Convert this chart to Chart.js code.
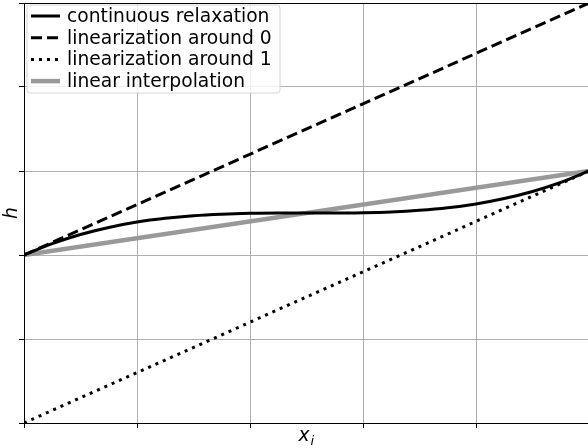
<!DOCTYPE html>
<html>
<head>
<meta charset="utf-8">
<script src="https://cdn.jsdelivr.net/npm/chart.js@4"></script>
<style>
  html, body { margin: 0; padding: 0; background: #fff; overflow: hidden; }
  #wrap { width: 588px; height: 448px; overflow: hidden; }
</style>
</head>
<body>
<div id="wrap"><canvas id="chart" width="592" height="448"></canvas></div>
<script>
// ── Données ──────────────────────────────────────────────────────────────
const xs = [0, 0.05, 0.1, 0.15, 0.2, 0.25, 0.3, 0.35, 0.4, 0.45, 0.5,
            0.55, 0.6, 0.65, 0.7, 0.75, 0.8, 0.85, 0.9, 0.95, 1];
const relaxation = [0, 0.135, 0.244, 0.328, 0.392, 0.437, 0.468, 0.486, 0.496, 0.5, 0.5,
                    0.5, 0.504, 0.513, 0.532, 0.562, 0.608, 0.672, 0.756, 0.864, 1];
const endsX   = [0, 1];
const lin0    = [0, 3];
const lin1    = [-2, 1];
const interp  = [0, 1];

const xTicks = [0, 0.2, 0.4, 0.6, 0.8, 1];
const yTicks = [-2, -1, 0, 1, 2, 3];

const legendLabels = ['continuous relaxation', 'linearization around 0',
                      'linearization around 1', 'linear interpolation'];

const pts = (x, y) => x.map((v, i) => ({ x: v, y: y[i] }));

// ── Cadre (4 côtés, comme matplotlib) ───────────────────────────────────
const framePlugin = {
  id: 'frame',
  afterDatasetsDraw(chart) {
    const { ctx, chartArea: a } = chart;
    ctx.save();
    ctx.strokeStyle = '#000';
    ctx.lineWidth = 1;
    ctx.strokeRect(Math.round(a.left) + 0.5, Math.round(a.top) + 0.5,
                   Math.round(a.right - a.left), Math.round(a.bottom - a.top));
    ctx.restore();
  },
};

// ── Légende intérieure + titres d'axes ──────────────────────────────────
const overlayPlugin = {
  id: 'overlay',
  afterDraw(chart) {
    const { ctx, chartArea: a } = chart;
    ctx.save();

    // boîte de légende
    const bx = 27, by = 5, bw = 253, bh = 88, r = 3;
    ctx.beginPath();
    ctx.moveTo(bx + r, by);
    ctx.arcTo(bx + bw, by, bx + bw, by + bh, r);
    ctx.arcTo(bx + bw, by + bh, bx, by + bh, r);
    ctx.arcTo(bx, by + bh, bx, by, r);
    ctx.arcTo(bx, by, bx + bw, by, r);
    ctx.closePath();
    ctx.fillStyle = 'rgba(255,255,255,0.8)';
    ctx.fill();
    ctx.strokeStyle = '#d4d4d4';
    ctx.lineWidth = 1;
    ctx.stroke();

    ctx.font = '18.7px "DejaVu Sans"';
    ctx.textBaseline = 'middle';
    chart.data.datasets.forEach((d, i) => {
      const yy = 16 + i * 21.7;
      ctx.beginPath();
      ctx.setLineDash(d.borderDash || []);
      ctx.strokeStyle = d.borderColor;
      ctx.lineWidth = d.borderWidth;
      ctx.moveTo(31, yy);
      ctx.lineTo(60, yy);
      ctx.stroke();
      ctx.setLineDash([]);
      ctx.fillStyle = '#000';
      ctx.fillText(legendLabels[i], 67, yy + 1);
    });

    // titres d'axes
    ctx.fillStyle = '#000';
    ctx.textAlign = 'center';
    ctx.font = 'italic 18.7px "DejaVu Sans"';
    ctx.save();
    ctx.translate(12, (a.top + a.bottom) / 2);
    ctx.rotate(-Math.PI / 2);
    ctx.fillText('h', 0, 0);
    ctx.restore();

    const cx = (a.left + a.right) / 2;
    ctx.textAlign = 'left';
    ctx.fillText('x', cx - 8, 436);
    ctx.font = 'italic 13px "DejaVu Sans"';
    ctx.fillText('i', cx + 4, 442);
    ctx.restore();
  },
};

new Chart(document.getElementById('chart'), {
  type: 'line',
  data: {
    datasets: [
      { data: pts(xs, relaxation), borderColor: '#000', borderWidth: 3,
        cubicInterpolationMode: 'monotone' },
      { data: pts(endsX, lin0), borderColor: '#000', borderWidth: 3, borderDash: [11, 5] },
      { data: pts(endsX, lin1), borderColor: '#000', borderWidth: 3, borderDash: [3, 5] },
      { data: pts(endsX, interp), borderColor: '#999999', borderWidth: 4.5 },
    ],
  },
  plugins: [framePlugin, overlayPlugin],
  options: {
    responsive: false,
    animation: false,
    devicePixelRatio: 1,
    layout: { padding: { top: 3, right: 3, left: 0, bottom: 0 } },
    elements: { point: { radius: 0 }, line: { borderCapStyle: 'butt' } },
    plugins: { legend: { display: false }, tooltip: { enabled: false } },
    scales: {
      x: {
        type: 'linear', min: 0, max: 1,
        afterBuildTicks: s => { s.ticks = xTicks.map(v => ({ value: v })); },
        afterFit: s => { s.height = 25; },
        ticks: { display: false },
        grid: { color: '#b0b0b0', lineWidth: 1, tickColor: '#000', tickLength: 5 },
        border: { color: '#000', width: 1 },
      },
      y: {
        type: 'linear', min: -2, max: 3,
        afterBuildTicks: s => { s.ticks = yTicks.map(v => ({ value: v })); },
        afterFit: s => { s.width = 24; },
        ticks: { display: false },
        grid: { color: '#b0b0b0', lineWidth: 1, tickColor: '#000', tickLength: 5 },
        border: { color: '#000', width: 1 },
      },
    },
  },
});
</script>
</body>
</html>
